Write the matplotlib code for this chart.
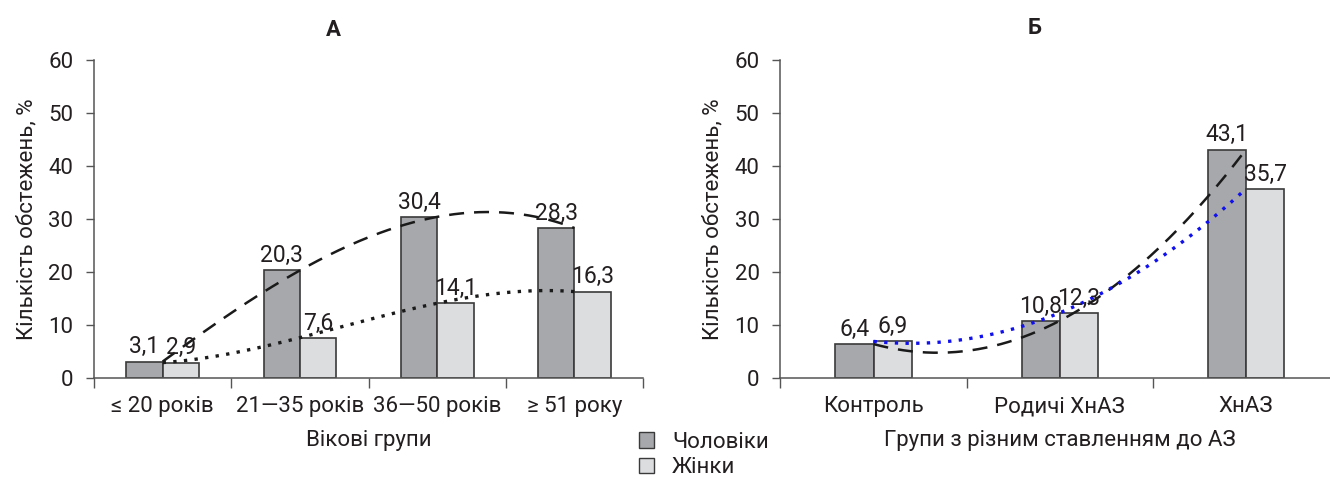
import matplotlib
matplotlib.use('Agg')
import matplotlib.pyplot as plt
import numpy as np
from matplotlib.patches import Patch

plt.rcParams['font.family'] = ['Roboto', 'DejaVu Sans']

# panel A: age groups
age_groups = ['≤ 20 років', '21—35 років', '36—50 років', '≥ 51 року']
age_men = [3.1, 20.3, 30.4, 28.3]
age_women = [2.9, 7.6, 14.1, 16.3]

# panel B: relation to AZ
az_groups = ['Контроль', 'Родичі ХнАЗ', 'ХнАЗ']
az_men = [6.4, 10.8, 43.1]
az_women = [6.9, 12.3, 35.7]

men_color = '#a7a8ab'
women_color = '#dcdddf'
edge = '#3a3a3a'
text_color = '#231f20'
fs = 16


def fmt(v):
    return f'{v:.1f}'.replace('.', ',')


def draw_panel(ax, groups, men, women, width, women_trend_color):
    x = np.arange(1, len(groups) + 1)
    ax.bar(x - width / 2, men, width, color=men_color, edgecolor=edge, linewidth=1.2)
    ax.bar(x + width / 2, women, width, color=women_color, edgecolor=edge, linewidth=1.2)
    for xi, m, w in zip(x, men, women):
        ax.text(xi - width / 2, m + 0.6, fmt(m), ha='center', va='bottom', fontsize=fs + 0.5, color=text_color)
        ax.text(xi + width / 2, w + 0.6, fmt(w), ha='center', va='bottom', fontsize=fs + 0.5, color=text_color)

    # polynomial trendlines through the category centres
    deg = len(groups) - 1
    xs = np.linspace(x[0], x[-1], 200)
    ax.plot(xs, np.polyval(np.polyfit(x, men, deg), xs), color='#1a1a1a',
            linestyle=(0, (6, 4)), linewidth=1.8)
    ax.plot(xs, np.polyval(np.polyfit(x, women, deg), xs), color=women_trend_color,
            linestyle=(0, (1, 2.2)), linewidth=2.4)

    ax.set_xlim(0.5, len(groups) + 0.5)
    ax.set_ylim(0, 60)
    ax.set_yticks(range(0, 61, 10))
    ax.set_xticks(x)
    ax.set_xticklabels(groups)
    ax.set_xticks(np.arange(0.5, len(groups) + 1, 1), minor=True)
    ax.tick_params(axis='x', which='major', length=0, pad=13, labelsize=fs, labelcolor=text_color)
    ax.tick_params(axis='x', which='minor', length=7, width=1, color='#555555', direction='out')
    ax.tick_params(axis='y', length=6, width=1, color='#555555', labelsize=fs, labelcolor=text_color, pad=9)
    for s in ['top', 'right']:
        ax.spines[s].set_visible(False)
    for s in ['left', 'bottom']:
        ax.spines[s].set_color('#555555')
        ax.spines[s].set_linewidth(1.1)
    ax.set_ylabel('Кількість обстежень, %', fontsize=fs, color=text_color, labelpad=8)


fig = plt.figure(figsize=(13.3, 4.79), dpi=100)
ax1 = fig.add_axes([0.0707, 0.2109, 0.4128, 0.6638])
ax2 = fig.add_axes([0.5868, 0.2109, 0.4200, 0.6638])

draw_panel(ax1, age_groups, age_men, age_women, 0.265, '#1a1a1a')
draw_panel(ax2, az_groups, az_men, az_women, 0.205, '#1010ee')

ax1.set_xlabel('Вікові групи', fontsize=fs, color=text_color, labelpad=9)
ax2.set_xlabel('Групи з різним ставленням до АЗ', fontsize=fs, color=text_color, labelpad=9)

fig.text(0.251, 0.925, 'А', fontsize=16, fontweight='bold', ha='center', color=text_color)
fig.text(0.778, 0.93, 'Б', fontsize=16, fontweight='bold', ha='center', color=text_color)

handles = [Patch(facecolor=men_color, edgecolor=edge, label='Чоловіки'),
           Patch(facecolor=women_color, edgecolor=edge, label='Жінки')]
fig.legend(handles=handles, loc='upper left', bbox_to_anchor=(0.472, 0.122),
           frameon=False, fontsize=fs, handlelength=0.7, handleheight=0.7,
           handletextpad=0.8, labelspacing=0.2, borderpad=0, labelcolor=text_color)

fig.savefig('out.png', dpi=100)
